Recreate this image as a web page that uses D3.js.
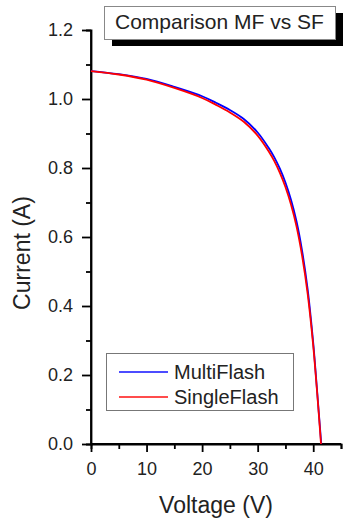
<!DOCTYPE html>
<html>
<head>
<meta charset="utf-8">
<script src="https://cdn.jsdelivr.net/npm/d3@7"></script>
<style>
body { margin: 0; background: #fff; }
text { font-family: "Liberation Sans", Arial, sans-serif; fill: #222; }
</style>
</head>
<body>
<svg id="svg"></svg>
<script>
var width = 343, height = 524;

// data
var voltMF = [0, 5, 10, 15, 20, 22.5, 25, 27.5, 30, 32, 33, 34, 35, 36, 37, 38, 39, 40, 40.5, 41, 41.45];
var currMF = [1.081, 1.072, 1.058, 1.035, 1.008, 0.989, 0.968, 0.942, 0.903, 0.858, 0.831, 0.798, 0.758, 0.708, 0.645, 0.560, 0.448, 0.293, 0.195, 0.092, 0.0];
var voltSF = [0, 5, 10, 15, 20, 22.5, 25, 27.5, 30, 32, 33, 34, 35, 36, 37, 38, 39, 40, 40.5, 41, 41.4];
var currSF = [1.081, 1.071, 1.056, 1.032, 1.003, 0.983, 0.961, 0.934, 0.894, 0.848, 0.820, 0.786, 0.745, 0.694, 0.630, 0.545, 0.435, 0.285, 0.190, 0.088, 0.0];
var seriesNames = ["MultiFlash", "SingleFlash"];
var xMajor = [0, 10, 20, 30, 40];
var xMinor = [5, 15, 25, 35, 45];
var yMajor = [0.0, 0.2, 0.4, 0.6, 0.8, 1.0, 1.2];
var yMinor = [0.1, 0.3, 0.5, 0.7, 0.9, 1.1];
var title = "Comparison MF vs SF";

var color = d3.scaleOrdinal().domain(seriesNames).range(["#0000ff", "#ff0000"]);

var svg = d3.select("#svg")
	.attr("width", width)
	.attr("height", height);

var x = d3.scaleLinear().domain([0, 45]).range([91, 341]);
var y = d3.scaleLinear().domain([0, 1.2]).range([444, 30]);

function styleAxis(g) {
	g.select(".domain").attr("stroke", "#000").attr("stroke-width", 1.8);
	g.selectAll(".tick line").attr("stroke", "#000").attr("stroke-width", 1.8);
	g.selectAll(".tick text").attr("font-size", "18px").attr("fill", "#222");
}

// minor ticks first
svg.append("g")
	.attr("transform", "translate(0,444)")
	.call(d3.axisBottom(x).tickValues(xMinor).tickSize(5).tickFormat(""))
	.call(styleAxis);
svg.append("g")
	.attr("transform", "translate(91,0)")
	.call(d3.axisLeft(y).tickValues(yMinor).tickSize(5).tickFormat(""))
	.call(styleAxis);

var xAxis = svg.append("g")
	.attr("transform", "translate(0,444)")
	.call(d3.axisBottom(x).tickValues(xMajor).tickSize(8).tickPadding(10).tickFormat(d3.format("d")))
	.call(styleAxis);
xAxis.select(".domain").attr("d", "M91,0H341");

var yAxis = svg.append("g")
	.attr("transform", "translate(91,0)")
	.call(d3.axisLeft(y).tickValues(yMajor).tickSize(9).tickPadding(9).tickFormat(d3.format(".1f")))
	.call(styleAxis);
yAxis.select(".domain").attr("d", "M0,30V444");

// axis titles
svg.append("text")
	.attr("x", 216).attr("y", 513)
	.attr("text-anchor", "middle")
	.attr("font-size", "23px")
	.text("Voltage (V)");

svg.append("text")
	.attr("transform", "translate(30,253) rotate(-90)")
	.attr("text-anchor", "middle")
	.attr("font-size", "23px")
	.text("Current (A)");

// curves
var line = d3.line()
	.x(function(d) { return x(d[0]); })
	.y(function(d) { return y(d[1]); })
	.curve(d3.curveCatmullRom.alpha(0.5));

var series = [
	{ name: "MultiFlash", values: d3.zip(voltMF, currMF) },
	{ name: "SingleFlash", values: d3.zip(voltSF, currSF) }
];

svg.selectAll(".curve")
	.data(series)
	.enter().append("path")
	.attr("class", "curve")
	.attr("fill", "none")
	.attr("stroke", function(d) { return color(d.name); })
	.attr("stroke-width", 1.8)
	.attr("d", function(d) { return line(d.values); });

// title box with shadow
svg.append("rect")
	.attr("x", 112).attr("y", 13).attr("width", 231).attr("height", 33)
	.attr("fill", "#000");
svg.append("rect")
	.attr("x", 104.5).attr("y", 6.5).attr("width", 231).attr("height", 33)
	.attr("fill", "#fff").attr("stroke", "#888").attr("stroke-width", 1);
svg.append("text")
	.attr("x", 115).attr("y", 29)
	.attr("font-size", "21px")
	.text(title);

// legend
svg.append("rect")
	.attr("x", 106.5).attr("y", 353.5).attr("width", 187).attr("height", 57)
	.attr("fill", "#fff").attr("stroke", "#777").attr("stroke-width", 1);

var leg = svg.selectAll(".leg")
	.data(seriesNames)
	.enter().append("g")
	.attr("class", "leg")
	.attr("transform", function(d, i) { return "translate(0," + (372 + i * 25) + ")"; });

leg.append("line")
	.attr("x1", 119).attr("x2", 168)
	.attr("stroke", function(d) { return color(d); })
	.attr("stroke-opacity", 0.7)
	.attr("stroke-width", 1.8);

leg.append("text")
	.attr("x", 174).attr("dy", 7)
	.attr("font-size", "20px")
	.text(function(d) { return d; });
</script>
</body>
</html>
